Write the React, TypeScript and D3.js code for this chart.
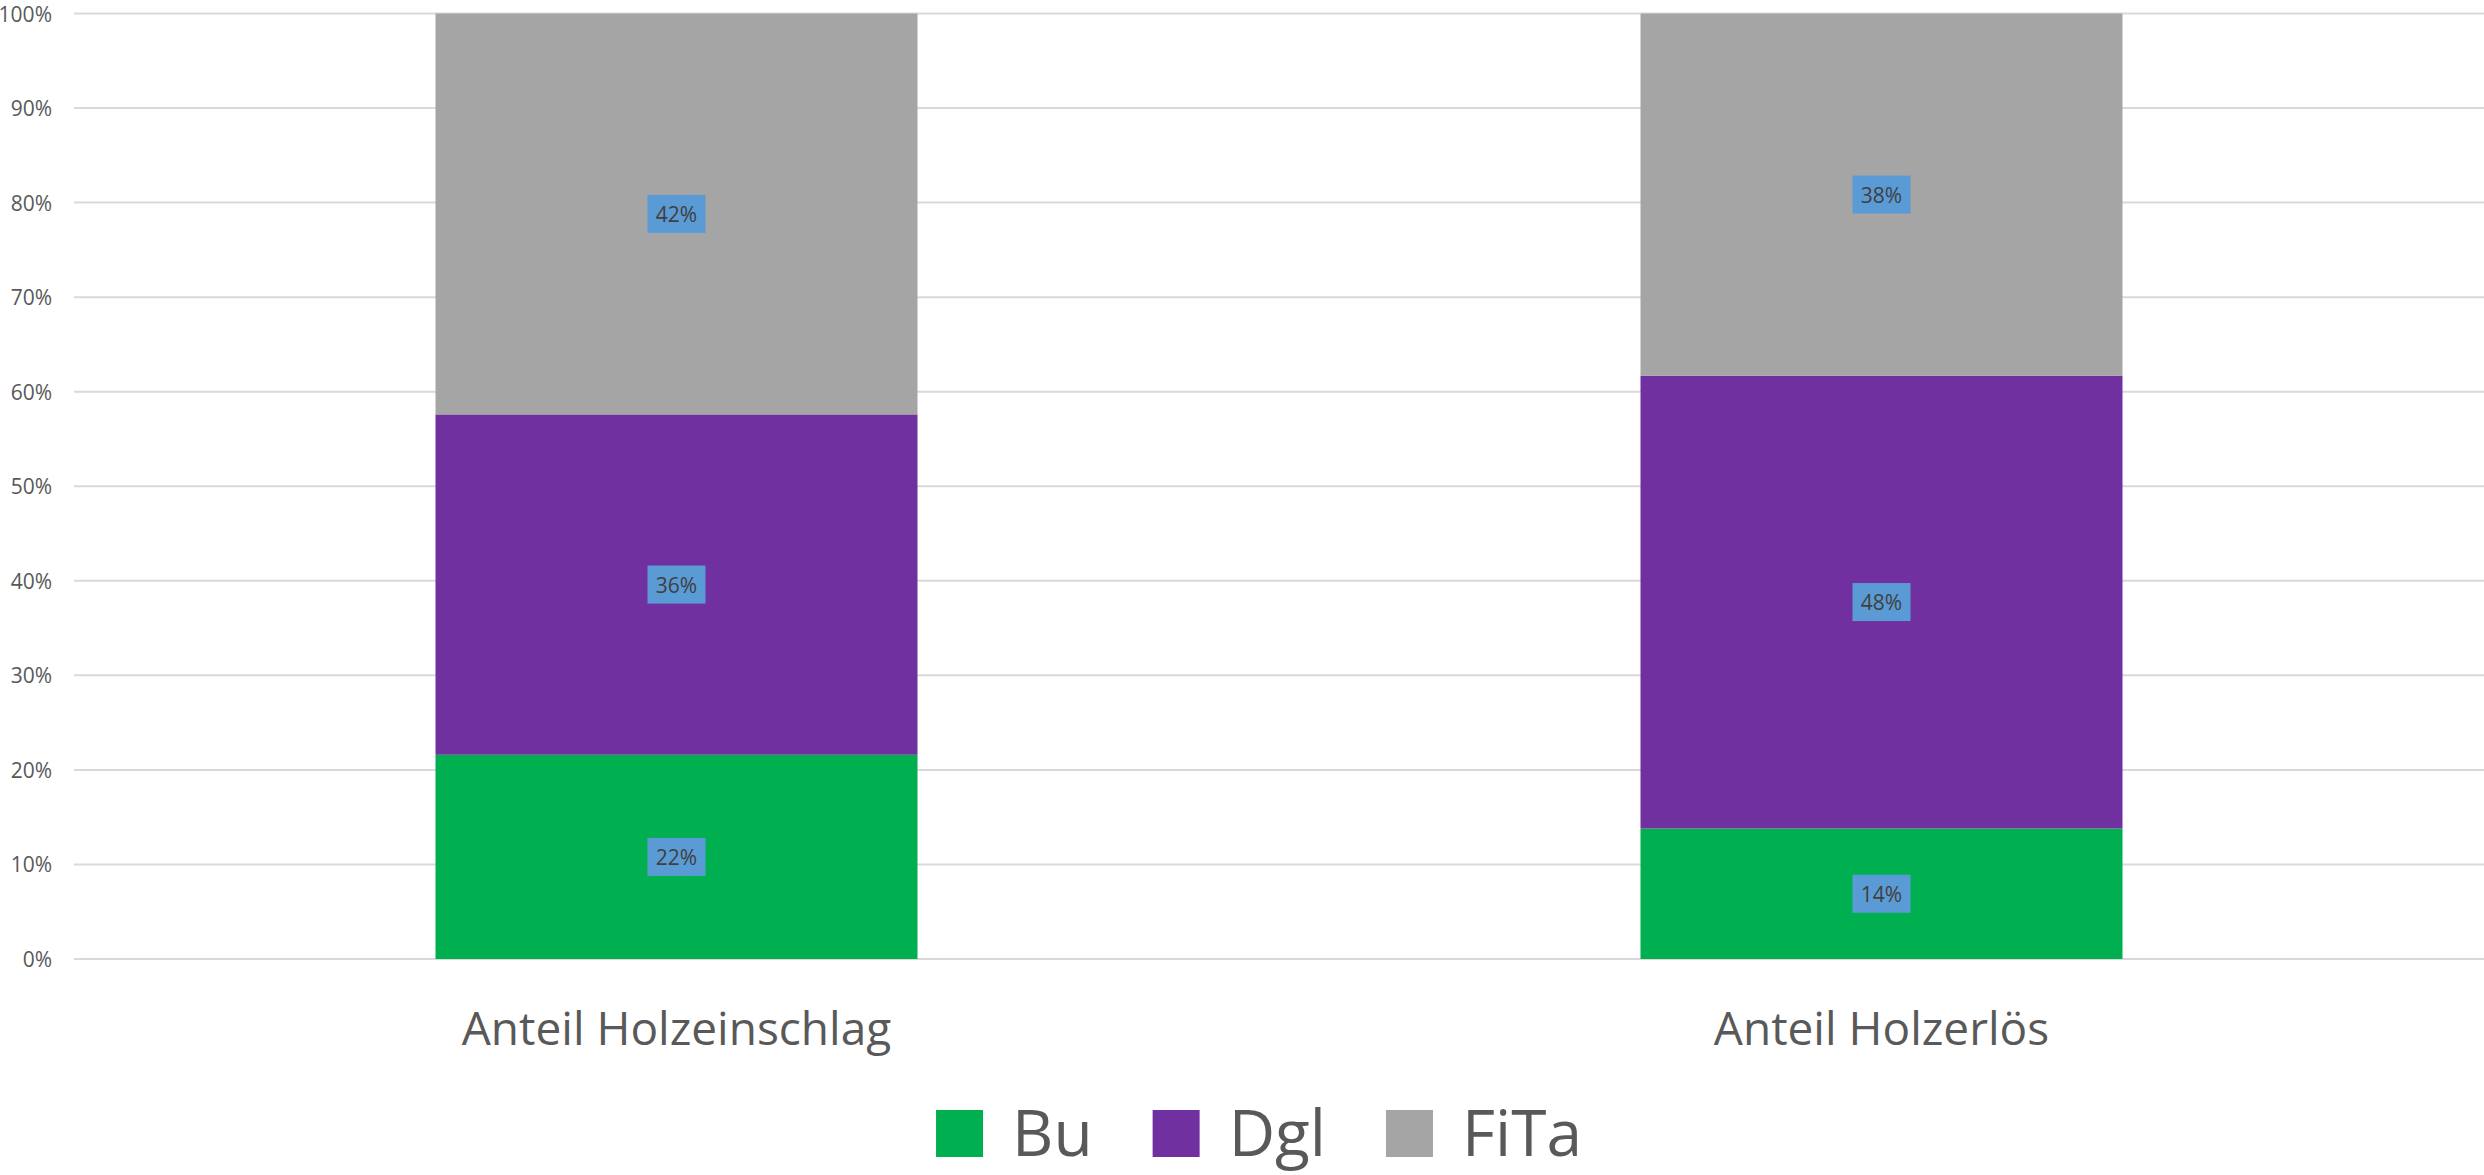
import React, { useEffect, useRef } from 'react';
import * as d3 from 'd3';

const categories = ['Anteil Holzeinschlag', 'Anteil Holzerlös'];
const seriesNames = ['Bu', 'Dgl', 'FiTa'];
const buValues = [0.216, 0.138];
const dglValues = [0.36, 0.479];
const fitaValues = [0.424, 0.383];
const seriesColors = ['#00B050', '#7030A0', '#A5A5A5'];
const yTicks = [0, 0.1, 0.2, 0.3, 0.4, 0.5, 0.6, 0.7, 0.8, 0.9, 1];

const W = 2484;
const H = 1175;
const FONT = '"Open Sans", "Noto Sans", sans-serif';

export default function App() {
  const ref = useRef<SVGSVGElement>(null);

  useEffect(() => {
    const svg = d3.select(ref.current);
    svg.selectAll('*').remove();

    const margin = { left: 74, right: 0, top: 13.5, bottom: 959 };
    const y = d3.scaleLinear().domain([0, 1]).range([margin.bottom, margin.top]);
    const x = d3.scaleBand().domain(categories).range([margin.left, W - margin.right]).padding(0);
    const barW = x.bandwidth() * 0.4;

    const rows = categories.map((c, i) => ({
      cat: c,
      Bu: buValues[i],
      Dgl: dglValues[i],
      FiTa: fitaValues[i],
    }));
    const stacked = d3.stack<any>().keys(seriesNames)(rows);

    // gridlines + y labels
    const grid = svg.append('g');
    grid.selectAll('line')
      .data(yTicks)
      .join('line')
      .attr('x1', margin.left)
      .attr('x2', W)
      .attr('y1', (d) => y(d))
      .attr('y2', (d) => y(d))
      .attr('stroke', '#D9D9D9')
      .attr('stroke-width', 2);
    grid.selectAll('text')
      .data(yTicks)
      .join('text')
      .attr('x', 52)
      .attr('y', (d) => y(d))
      .attr('text-anchor', 'end')
      .attr('dominant-baseline', 'central')
      .attr('font-family', FONT)
      .attr('font-size', 21)
      .attr('fill', '#595959')
      .text((d) => d3.format('.0%')(d));

    // bars
    const layers = svg.append('g')
      .selectAll('g')
      .data(stacked)
      .join('g')
      .attr('fill', (_d, i) => seriesColors[i]);
    layers.selectAll('rect')
      .data((d) => d)
      .join('rect')
      .attr('x', (d: any) => (x(d.data.cat) as number) + (x.bandwidth() - barW) / 2)
      .attr('width', barW)
      .attr('y', (d) => y(d[1]))
      .attr('height', (d) => y(d[0]) - y(d[1]));

    // data labels
    const labels = svg.append('g');
    stacked.forEach((layer) => {
      layer.forEach((d: any) => {
        const cx = (x(d.data.cat) as number) + x.bandwidth() / 2;
        const cy = (y(d[0]) + y(d[1])) / 2;
        labels.append('rect')
          .attr('x', cx - 29)
          .attr('y', cy - 19)
          .attr('width', 58)
          .attr('height', 38)
          .attr('fill', '#5B9BD5');
        labels.append('text')
          .attr('x', cx)
          .attr('y', cy)
          .attr('text-anchor', 'middle')
          .attr('dominant-baseline', 'central')
          .attr('font-family', FONT)
          .attr('font-size', 21)
          .attr('fill', '#404040')
          .text(d3.format('.0%')(d[1] - d[0]));
      });
    });

    // category labels
    svg.append('g')
      .selectAll('text')
      .data(categories)
      .join('text')
      .attr('x', (d) => (x(d) as number) + x.bandwidth() / 2)
      .attr('y', 1045)
      .attr('text-anchor', 'middle')
      .attr('font-family', FONT)
      .attr('font-size', 46)
      .attr('fill', '#595959')
      .text((d) => d);

    // legend
    const legend = svg.append('g');
    const sw = 47;
    const baseY = 1156;
    let cursor = 0;
    const items: { g: any; w: number }[] = [];
    seriesNames.forEach((name, i) => {
      const g = legend.append('g');
      g.append('rect')
        .attr('x', 0)
        .attr('y', baseY - sw + 1)
        .attr('width', sw)
        .attr('height', sw)
        .attr('fill', seriesColors[i]);
      const t = g.append('text')
        .attr('x', sw + 29)
        .attr('y', baseY)
        .attr('font-family', FONT)
        .attr('font-size', 64)
        .attr('fill', '#595959')
        .text(name);
      const tw = (t.node() as SVGTextElement).getComputedTextLength();
      items.push({ g, w: sw + 29 + tw });
    });
    const gap = 60;
    const total = d3.sum(items, (d) => d.w) + gap * (items.length - 1);
    cursor = 1259 - total / 2;
    items.forEach((it) => {
      it.g.attr('transform', `translate(${cursor},0)`);
      cursor += it.w + gap;
    });
  }, []);

  return (
    <div style={{ position: 'absolute', left: 0, top: 0 }}>
      <svg ref={ref} width={W} height={H} style={{ display: 'block', background: '#fff' }} />
    </div>
  );
}
